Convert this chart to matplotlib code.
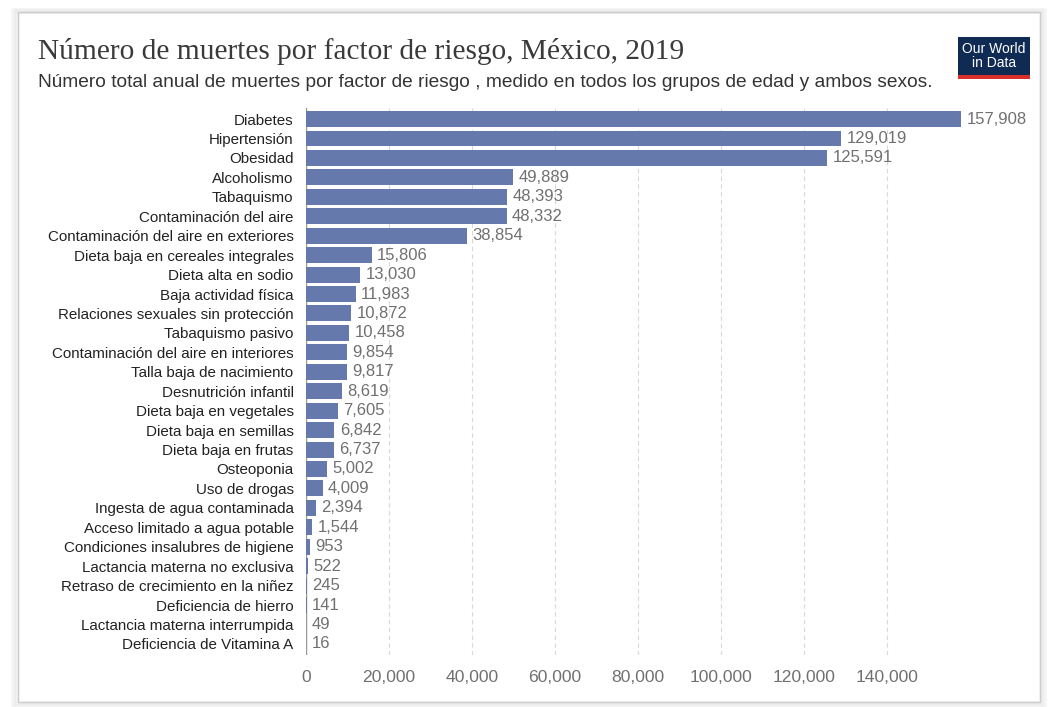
import matplotlib.pyplot as plt
from matplotlib.patches import Rectangle

# Deaths by risk factor, Mexico 2019
factores = [
    "Diabetes", "Hipertensión", "Obesidad", "Alcoholismo", "Tabaquismo",
    "Contaminación del aire", "Contaminación del aire en exteriores",
    "Dieta baja en cereales integrales", "Dieta alta en sodio",
    "Baja actividad física", "Relaciones sexuales sin protección",
    "Tabaquismo pasivo", "Contaminación del aire en interiores",
    "Talla baja de nacimiento", "Desnutrición infantil",
    "Dieta baja en vegetales", "Dieta baja en semillas", "Dieta baja en frutas",
    "Osteoponia", "Uso de drogas", "Ingesta de agua contaminada",
    "Acceso limitado a agua potable", "Condiciones insalubres de higiene",
    "Lactancia materna no exclusiva", "Retraso de crecimiento en la niñez",
    "Deficiencia de hierro", "Lactancia materna interrumpida",
    "Deficiencia de Vitamina A",
]
muertes = [
    157908, 129019, 125591, 49889, 48393, 48332, 38854, 15806, 13030, 11983,
    10872, 10458, 9854, 9817, 8619, 7605, 6842, 6737, 5002, 4009, 2394, 1544,
    953, 522, 245, 141, 49, 16,
]
ticks_x = [0, 20000, 40000, 60000, 80000, 100000, 120000, 140000]

titulo = "Número de muertes por factor de riesgo, México, 2019"
subtitulo = ("Número total anual de muertes por factor de riesgo , medido en "
             "todos los grupos de edad y ambos sexos.")

W, H = 1053, 707
fig = plt.figure(figsize=(W / 100, H / 100), dpi=100)
fig.patch.set_facecolor("white")

# card frame with a soft edge
for i, a in enumerate([0.04, 0.06, 0.09]):
    fig.patches.append(Rectangle((18 / W - i * 0.002, 1 - 702 / H - i * 0.003),
                                 1022 / W + i * 0.004, 690 / H + i * 0.004,
                                 transform=fig.transFigure, fill=False,
                                 edgecolor="#888888", alpha=a, lw=2 + i))
fig.patches.append(Rectangle((18 / W, 1 - 702 / H), 1022 / W, 690 / H,
                             transform=fig.transFigure, fill=False,
                             edgecolor="#cccccc", lw=1))

ax = fig.add_axes([306 / W, 1 - 655 / H, 664 / W, 547 / H])
y = list(range(len(factores)))
ax.barh(y, muertes, height=0.82, color="#6579ad", zorder=3)
ax.set_xlim(0, 160000)
ax.set_ylim(len(factores) - 1 + 0.57, -0.57)

for yi, v in zip(y, muertes):
    ax.text(v + 1300, yi, f"{v:,}", va="center", ha="left",
            fontsize=12, color="#707070", family="Liberation Sans", zorder=4)

ax.set_yticks(y)
ax.set_yticklabels(factores, fontsize=10.9, color="#222222", family="Liberation Sans")
ax.tick_params(axis="y", length=0, pad=9)
ax.set_xticks(ticks_x)
ax.set_xticklabels([f"{t:,}" for t in ticks_x], fontsize=12.6, color="#707070",
                   family="Liberation Sans")
ax.tick_params(axis="x", length=0, pad=11)
for s in ax.spines.values():
    s.set_visible(False)
ax.grid(axis="x", color="#d8d8d8", linestyle=(0, (4, 3)), lw=0.8, zorder=0)
ax.axvline(0, color="#999999", lw=1, zorder=2)

fig.text(38 / W, 1 - 59 / H, titulo, fontsize=21.2, family="Liberation Serif",
         color="#3a3a3a", va="baseline")
fig.text(38 / W, 1 - 87 / H, subtitulo, fontsize=13.8, family="Liberation Sans",
         color="#333333", va="baseline")

# logo block
lx, ly, lw_, lh = 958 / W, 1 - 79 / H, 72 / W, 42 / H
fig.patches.append(Rectangle((lx, ly), lw_, lh, transform=fig.transFigure,
                             facecolor="#0f2a53", edgecolor="none"))
fig.patches.append(Rectangle((lx, ly), lw_, 4 / H, transform=fig.transFigure,
                             facecolor="#d92f2a", edgecolor="none"))
fig.text(lx + lw_ / 2, ly + 23 / H, "Our World\nin Data", ha="center", va="center",
         fontsize=10, color="white", family="Liberation Sans", linespacing=1.0)

fig.savefig("out.png", dpi=100)
